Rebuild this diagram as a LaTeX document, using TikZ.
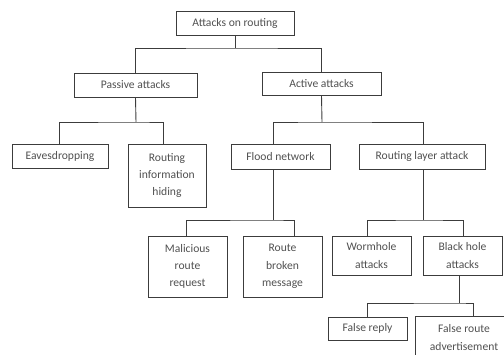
\documentclass[tikz,border=0pt]{standalone}
\usepackage{fontspec}
\setmainfont{Carlito}
\definecolor{ink}{HTML}{3C3C3C}
\definecolor{txt}{HTML}{505050}
\begin{document}
\begin{tikzpicture}[x=1pt,y=1pt,
  box/.style={draw=ink, line width=0.9pt, rectangle, inner sep=0pt, align=center,
    text=txt, font=\fontsize{11.6}{17.3}\selectfont},
  link/.style={draw=ink, line width=0.9pt}]
\useasboundingbox (0,0) rectangle (504,-354);
\clip (0,0) rectangle (504,-354);
\node[box, minimum width=118pt, minimum height=24pt] (root) at (235,-23) {Attacks on routing};
\node[box, minimum width=123pt, minimum height=24pt] (pas) at (135.5,-85) {Passive attacks};
\node[box, minimum width=119pt, minimum height=23pt] (act) at (321.5,-83.5) {Active attacks};
\node[box, minimum width=96pt, minimum height=24pt] (eav) at (60,-156) {Eavesdropping};
\node[box, minimum width=78pt, minimum height=63pt] (rih) at (167,-175.5) {Routing\\information\\hiding};
\node[box, minimum width=99pt, minimum height=25pt] (flood) at (280.5,-156.5) {Flood network};
\node[box, minimum width=126pt, minimum height=25pt] (rla) at (422,-156.5) {Routing layer attack};
\node[box, minimum width=79pt, minimum height=61pt] (mrr) at (187.5,-266.5) {Malicious\\route\\request};
\node[box, minimum width=79pt, minimum height=61pt] (rbm) at (282.5,-266.5) {Route\\broken\\message};
\node[box, minimum width=79pt, minimum height=39pt] (worm) at (371.5,-255.5) {Wormhole\\attacks};
\node[box, minimum width=79pt, minimum height=39pt] (black) at (462.5,-255.5) {Black hole\\attacks};
\node[box, minimum width=79pt, minimum height=23pt] (frep) at (367.5,-328.5) {False reply};
\node[box, minimum width=98pt, minimum height=42pt] (fadv) at (464,-337.5) {False route\\advertisement};
% connectors
\coordinate (b1) at (235,-48);
\draw[link] (root.south) -- (b1);
\draw[link] (pas.north) |- (b1) -| (act.north);
\coordinate (b2) at (136,-122);
\draw[link] (pas.south) -- (b2);
\draw[link] ([xshift=-1pt]eav.north) |- (b2) -| ([xshift=-4pt]rih.north);
\coordinate (b3) at (322,-122);
\draw[link] (act.south) -- (b3);
\draw[link] ([xshift=-7.5pt]flood.north) |- (b3) -| ([xshift=1pt]rla.north);
\coordinate (b4) at (273,-220);
\draw[link] ([xshift=-7.5pt]flood.south) -- (b4);
\draw[link] ([xshift=-1.5pt]mrr.north) |- (b4) -| ([xshift=11.5pt]rbm.north);
\coordinate (b5) at (423,-220);
\draw[link] ([xshift=1pt]rla.south) -- (b5);
\draw[link] ([xshift=-4.5pt]worm.north) |- (b5) -| ([xshift=0.5pt]black.north);
\coordinate (b6) at (459,-303);
\draw[link] ([xshift=-3.5pt]black.south) -- (b6);
\draw[link] ([xshift=-0.5pt]frep.north) |- (b6) -| ([xshift=9pt]fadv.north);
\end{tikzpicture}
\end{document}
